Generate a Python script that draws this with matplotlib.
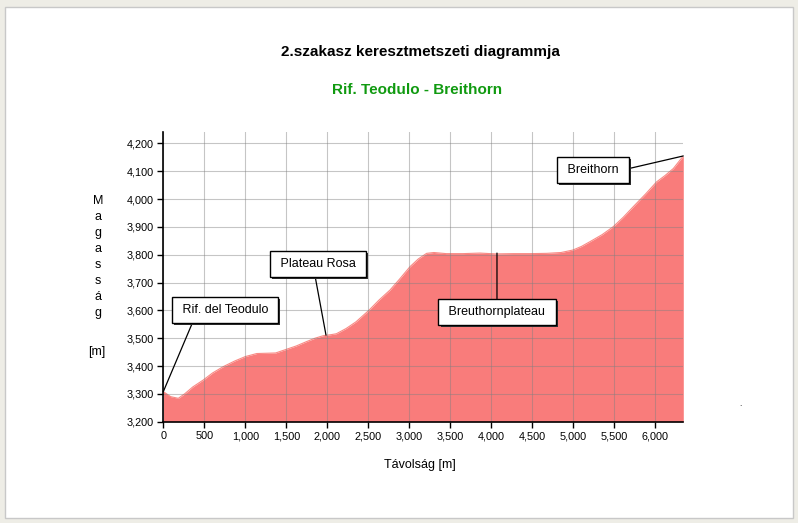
import matplotlib
matplotlib.use("Agg")
import matplotlib.pyplot as plt
from matplotlib.patches import Rectangle
from matplotlib.ticker import FuncFormatter, MultipleLocator
import matplotlib.patheffects as pe

plt.rcParams['font.family'] = ['Liberation Sans', 'DejaVu Sans']

title = "2.szakasz keresztmetszeti diagrammja"
subtitle = "Rif. Teodulo - Breithorn"
xlabel = "Távolság [m]"
ylabel_letters = ["M", "a", "g", "a", "s", "s", "á", "g"]
ylabel_unit = "[m]"

dist = [0, 90, 183, 260, 360, 488, 600, 732, 870, 1000, 1140, 1260, 1370, 1500, 1620, 1740, 1850,
        1950, 2050, 2110, 2230, 2350, 2430, 2510, 2630, 2764, 2880, 3008, 3110, 3211, 3300,
        3450, 3655, 3862, 4050, 4268, 4480, 4675, 4850, 4996, 5100, 5203, 5350, 5488, 5610,
        5732, 5880, 6016, 6120, 6220, 6341]
elev = [3308, 3290, 3284, 3300, 3325, 3350, 3375, 3398, 3418, 3434, 3445, 3446, 3447, 3460, 3472,
        3487, 3500, 3509, 3513, 3516, 3535, 3559, 3580, 3601, 3637, 3673, 3712, 3757, 3785, 3805,
        3808, 3804, 3804, 3806, 3803, 3804, 3804, 3805, 3808, 3817, 3830, 3847, 3872, 3901, 3935,
        3973, 4018, 4062, 4085, 4110, 4155]

labels = ["Rif. del Teodulo", "Plateau Rosa", "Breuthornplateau", "Breithorn"]
label_pts = [(0, 3308), (1984, 3511), (4069, 3806), (6341, 4155)]
label_box = [(752, 3601), (1887, 3767), (4069, 3594), (5240, 4104)]
label_rel = [(0.18, 0.0), (0.45, 0.0), (0.5, 1.0), (1.0, 0.5)]

fig = plt.figure(figsize=(7.98, 5.23), dpi=100, facecolor='#eeede6')
fig.patches.append(Rectangle((5/798, 5/523), 788/798, 511/523, transform=fig.transFigure,
                             facecolor='white', edgecolor='#c8c8c8', lw=1, zorder=-10))

ax = fig.add_axes([163.3/798, 1-421.7/523, 520/798, (421.7-132.3)/523])
ax.set_facecolor('none')
ax.set_xlim(0, 6341)
ax.set_ylim(3200, 4240)

ax.fill_between(dist, 3200, elev, color='#f97c7b', lw=0, zorder=1)
ax.plot(dist, elev, color='#f98a84', lw=0.8, zorder=1)

ax.xaxis.set_major_locator(MultipleLocator(500))
ax.yaxis.set_major_locator(MultipleLocator(100))
fmt = FuncFormatter(lambda v, p: f"{int(round(v)):,}")
ax.xaxis.set_major_formatter(fmt)
ax.yaxis.set_major_formatter(fmt)
ax.grid(True, color='#808080', alpha=0.45, lw=0.8, zorder=2)
ax.set_axisbelow(False)
for s in ['top', 'right']:
    ax.spines[s].set_visible(False)
for s in ['left', 'bottom']:
    ax.spines[s].set_linewidth(1.2)
    ax.spines[s].set_zorder(5)
ax.tick_params(axis='both', labelsize=7.8, length=4, width=1, pad=3)

fig.text(420/798, 1-52/523, title, ha='center', va='center', fontsize=11, fontweight='bold')
fig.text(417/798, 1-90/523, subtitle, ha='center', va='center', fontsize=11, fontweight='bold',
         color='#109a10')
fig.text(420/798, 1-465/523, xlabel, ha='center', va='center', fontsize=9)
for i, ch in enumerate(ylabel_letters):
    fig.text(98/798, 1-(201+16*i)/523, ch, ha='center', va='center', fontsize=9)
fig.text(97/798, 1-352/523, ylabel_unit, ha='center', va='center', fontsize=9)

for lab, pt, bx, rel in zip(labels, label_pts, label_box, label_rel):
    ann = ax.annotate(" " + lab + " ", xy=pt, xytext=bx, textcoords='data', ha='center',
                      va='center', fontsize=9, zorder=7, annotation_clip=False,
                      bbox=dict(boxstyle='square,pad=0.55', fc='white', ec='black', lw=1),
                      arrowprops=dict(arrowstyle='-', color='black', lw=0.9, relpos=rel,
                                      shrinkA=0, shrinkB=0))
    ann.get_bbox_patch().set_path_effects([
        pe.SimplePatchShadow(offset=(1.5, -1.5), shadow_rgbFace='#303030', alpha=1.0),
        pe.Normal()])

fig.text(740/798, 1-405/523, '.', ha='center', va='center', fontsize=6)

fig.savefig('out.png', dpi=100, facecolor=fig.get_facecolor())
